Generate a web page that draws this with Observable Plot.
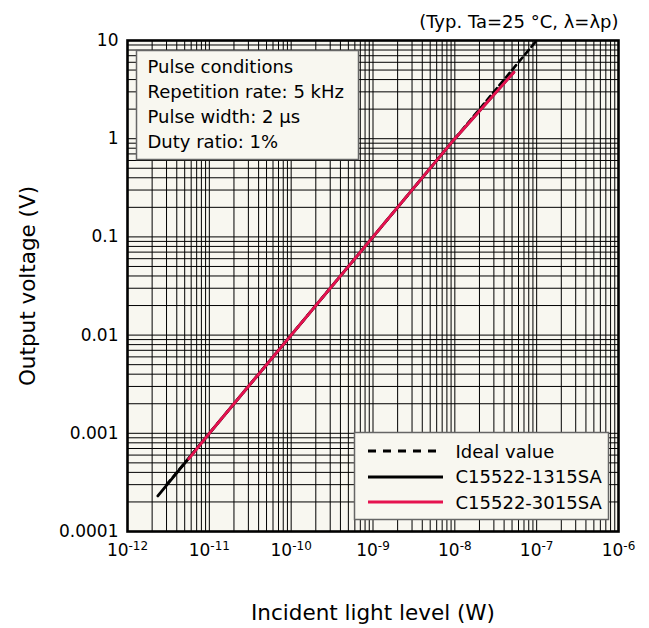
<!DOCTYPE html>
<html>
<head>
<meta charset="utf-8">
<script src="https://cdn.jsdelivr.net/npm/d3@7"></script>
<script src="https://cdn.jsdelivr.net/npm/@observablehq/plot@0.6"></script>
<style>
  html, body { margin: 0; padding: 0; background: #ffffff; }
  #chart { width: 649px; height: 628px; position: relative; }
</style>
</head>
<body>
<div id="chart"></div>
<script>
// ---- data ----
const idealP = [3e-12, 1e-7];
const idealV = [3e-4, 10];

const s1315P = [2.35e-12, 1e-11, 1e-10, 1e-9, 1e-8, 5.25e-8];
const s1315V = [2.3e-4, 1e-3, 1e-2, 0.1, 1.0, 4.75];

const s3015P = [5.6e-12, 1e-11, 1e-10, 1e-9, 1e-8, 5.28e-8];
const s3015V = [5.5e-4, 1e-3, 1e-2, 0.1, 1.0, 4.75];

const seriesNames = ["Ideal value", "C15522-1315SA", "C15522-3015SA"];
const seriesColors = ["#000000", "#000000", "#e5124f"];

const xTicks = [1e-12, 1e-11, 1e-10, 1e-9, 1e-8, 1e-7, 1e-6];
const xTickExps = ["-12", "-11", "-10", "-9", "-8", "-7", "-6"];
const yTicks = [1e-4, 1e-3, 1e-2, 0.1, 1, 10];
const yTickLabels = ["0.0001", "0.001", "0.01", "0.1", "1", "10"];

const xDecades = [-12, -11, -10, -9, -8, -7];
const yDecades = [-4, -3, -2, -1, 0];

const pulseText = ["Pulse conditions", "Repetition rate: 5 kHz", "Pulse width: 2 μs", "Duty ratio: 1%"];
const noteText = "(Typ. Ta=25 °C, λ=λp)";
const xLabel = "Incident light level (W)";
const yLabel = "Output voltage (V)";

// ---- build ----
const mk = (P, V) => P.map((p, i) => ({p, v: V[i]}));
const ideal = mk(idealP, idealV);
const s1 = mk(s1315P, s1315V);
const s2 = mk(s3015P, s3015V);

const xGrid = [];
xDecades.forEach(d => { for (let k = 1; k <= 9; k++) xGrid.push(k * Math.pow(10, d)); });
const yGrid = [];
yDecades.forEach(d => { for (let k = 1; k <= 9; k++) yGrid.push(k * Math.pow(10, d)); });

const idxOf = (arr, v) => arr.findIndex(t => Math.abs(Math.log10(t) - Math.log10(v)) < 1e-6);

const bg = "#f8f7f0";
const font = "DejaVu Sans";

const chart = Plot.plot({
  width: 649,
  height: 628,
  marginLeft: 127,
  marginRight: 31,
  marginTop: 40,
  marginBottom: 97,
  style: {fontFamily: font, fontSize: "17px", background: "#ffffff", color: "#000"},
  x: {type: "log", domain: [1e-12, 1e-6]},
  y: {type: "log", domain: [1e-4, 10]},
  marks: [
    Plot.frame({fill: bg}),
    Plot.ruleX(xGrid, {stroke: "#000", strokeWidth: 1}),
    Plot.ruleY(yGrid, {stroke: "#000", strokeWidth: 1}),
    Plot.line(ideal, {x: "p", y: "v", stroke: seriesColors[0], strokeWidth: 2.6, strokeDasharray: "6,4"}),
    Plot.line(s1, {x: "p", y: "v", stroke: seriesColors[1], strokeWidth: 2.8, strokeLinecap: "round"}),
    Plot.line(s2, {x: "p", y: "v", stroke: seriesColors[2], strokeWidth: 2.8, strokeLinecap: "round"}),
    // pulse conditions box
    Plot.frame({fill: bg, stroke: "#666", strokeWidth: 1.5, insetLeft: 9, insetTop: 10, insetRight: 260, insetBottom: 372}),
    Plot.text([pulseText.join("\n")], {text: d => d, frameAnchor: "top-left", textAnchor: "start", lineAnchor: "top", dx: 20, dy: 15, lineHeight: 1.39, fontSize: 18, fill: "#000"}),
    // legend box
    Plot.frame({fill: bg, stroke: "#666", strokeWidth: 1.5, insetLeft: 227, insetTop: 392, insetRight: 10, insetBottom: 12}),
    Plot.text([seriesNames.join("\n")], {text: d => d, frameAnchor: "top-left", textAnchor: "start", lineAnchor: "top", dx: 328, dy: 399, lineHeight: 1.42, fontSize: 18, fill: "#000"}),
    // note
    Plot.text([noteText], {text: d => d, frameAnchor: "top-right", textAnchor: "end", lineAnchor: "bottom", dy: -13, fontSize: 18, fill: "#000"}),
    Plot.axisX({ticks: xTicks, tickSize: 0, tickPadding: 12, tickFormat: d => "10" + xTickExps[idxOf(xTicks, d)],
      label: xLabel, labelAnchor: "center", labelOffset: 88, labelArrow: "none"}),
    Plot.axisY({ticks: yTicks, tickSize: 0, tickPadding: 9, tickFormat: d => yTickLabels[idxOf(yTicks, d)],
      label: yLabel, labelAnchor: "center", labelOffset: 108, labelArrow: "none"}),
    Plot.frame({stroke: "#000", strokeWidth: 2.6})
  ]
});

document.getElementById("chart").appendChild(chart);

const svg = d3.select(chart);
// tick label sizes
svg.selectAll('g[aria-label="y-axis tick label"]').style("font-size", "17px").attr("font-size", "17px");
svg.selectAll('g[aria-label="x-axis tick label"]').style("font-size", "17px").attr("font-size", "17px");
// superscript exponents on x tick labels
svg.selectAll('g[aria-label="x-axis tick label"] text').each(function() {
  const t = d3.select(this);
  const s = t.text();
  const exp = s.slice(2);
  t.text(null);
  t.append("tspan").text("10");
  t.append("tspan").attr("dy", "-6").style("font-size", "12px").text(exp);
});
svg.selectAll('g[aria-label="x-axis label"], g[aria-label="y-axis label"]').style("font-size", "21.5px").attr("font-size", "21.5px");

// legend sample lines
const legendRows = [451, 477, 502];
seriesNames.forEach((n, i) => {
  svg.append("line")
    .attr("x1", 368).attr("x2", 443)
    .attr("y1", legendRows[i]).attr("y2", legendRows[i])
    .attr("stroke", seriesColors[i])
    .attr("stroke-width", 3)
    .attr("stroke-dasharray", i === 0 ? "8,7" : null);
});
</script>
</body>
</html>
